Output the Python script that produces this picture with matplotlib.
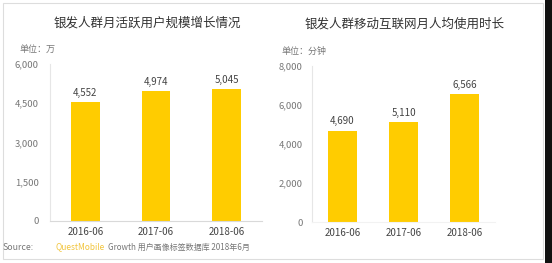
import matplotlib
matplotlib.use("Agg")
import matplotlib.pyplot as plt
from matplotlib.patches import Rectangle

plt.rcParams['font.family'] = ['Noto Sans CJK SC', 'DejaVu Sans']

# ---- data ----
categories = ["2016-06", "2017-06", "2018-06"]
mau_values = [4552, 4974, 5045]          # 万
usage_values = [4690, 5110, 6566]        # 分钟
left_ticks = [0, 1500, 3000, 4500, 6000]
right_ticks = [0, 2000, 4000, 6000, 8000]
left_title = "银发人群月活跃用户规模增长情况"
right_title = "银发人群移动互联网月人均使用时长"
left_unit = "单位：万"
right_unit = "单位：分钟"

BAR = "#FFCC00"
TXT = "#444444"
GRAY = "#777777"

W, H = 552, 263
fig = plt.figure(figsize=(W / 100, H / 100), dpi=100)
fig.patch.set_facecolor("white")

def fx(px):
    return px / W

def fy(py):
    return 1 - py / H

# outer frame and right-side dark strip
fig.add_artist(Rectangle((fx(3), fy(259)), fx(540), (256) / H, transform=fig.transFigure,
                         fill=False, edgecolor="#dddddd", linewidth=0.8))
fig.add_artist(Rectangle((fx(545), 0), fx(7), 1, transform=fig.transFigure,
                         facecolor="#111111", edgecolor="none"))

def setup(ax, ticks, ymax, pad):
    ax.set_ylim(0, ymax)
    ax.set_xlim(-0.5, 2.5)
    ax.set_yticks(ticks)
    ax.set_yticklabels([f"{t:,}" for t in ticks], fontsize=6.8, color=GRAY)
    ax.tick_params(axis='y', length=0, pad=pad)
    ax.tick_params(axis='x', length=0, pad=4, labelsize=7, labelcolor=TXT)
    for s in ["top", "right"]:
        ax.spines[s].set_visible(False)
    ax.spines["left"].set_color("#e6e6e6")
    ax.spines["bottom"].set_color("#d9d9d9")
    ax.spines["left"].set_linewidth(0.8)
    ax.spines["bottom"].set_linewidth(0.8)
    ax.set_facecolor("none")

# left chart
axl = fig.add_axes([fx(50), fy(221), fx(212), (221 - 64) / H])
xl = range(len(categories))
axl.bar(xl, mau_values, width=0.41, color=BAR)
axl.set_xticks(list(xl))
axl.set_xticklabels(categories)
setup(axl, left_ticks, 6000, 8)
for x, v in zip(xl, mau_values):
    axl.annotate(f"{v:,}", (x, v), xytext=(0, 3), textcoords="offset points",
                 ha="center", va="bottom", fontsize=7, color=TXT)

# right chart
axr = fig.add_axes([fx(312), fy(222), fx(183), (222 - 66) / H])
xr = range(len(categories))
axr.bar(xr, usage_values, width=0.48, color=BAR)
axr.set_xticks(list(xr))
axr.set_xticklabels(categories)
setup(axr, right_ticks, 8000, 6.5)
axr.spines["bottom"].set_color("#f2f2f2")
for x, v in zip(xr, usage_values):
    axr.annotate(f"{v:,}", (x, v), xytext=(0, 3), textcoords="offset points",
                 ha="center", va="bottom", fontsize=7, color=TXT)

# titles
fig.text(fx(147), fy(23), left_title, ha="center", va="center", fontsize=9, color="#333333")
fig.text(fx(405), fy(24), right_title, ha="center", va="center", fontsize=9, color="#333333")
fig.text(fx(19), fy(49), left_unit, ha="left", va="center", fontsize=6.5, color=GRAY)
fig.text(fx(282), fy(51), right_unit, ha="left", va="center", fontsize=6.5, color=GRAY)

# source line
fig.text(fx(3), fy(247), "Source:", ha="left", va="center", fontsize=6.3, color=GRAY)
fig.text(fx(56), fy(247), "QuestMobile", ha="left", va="center", fontsize=6.0, color="#F2C53D")
fig.text(fx(108), fy(247), "Growth 用户画像标签数据库 2018年6月", ha="left", va="center",
         fontsize=5.8, color=GRAY)

fig.savefig("out.png", dpi=100)
